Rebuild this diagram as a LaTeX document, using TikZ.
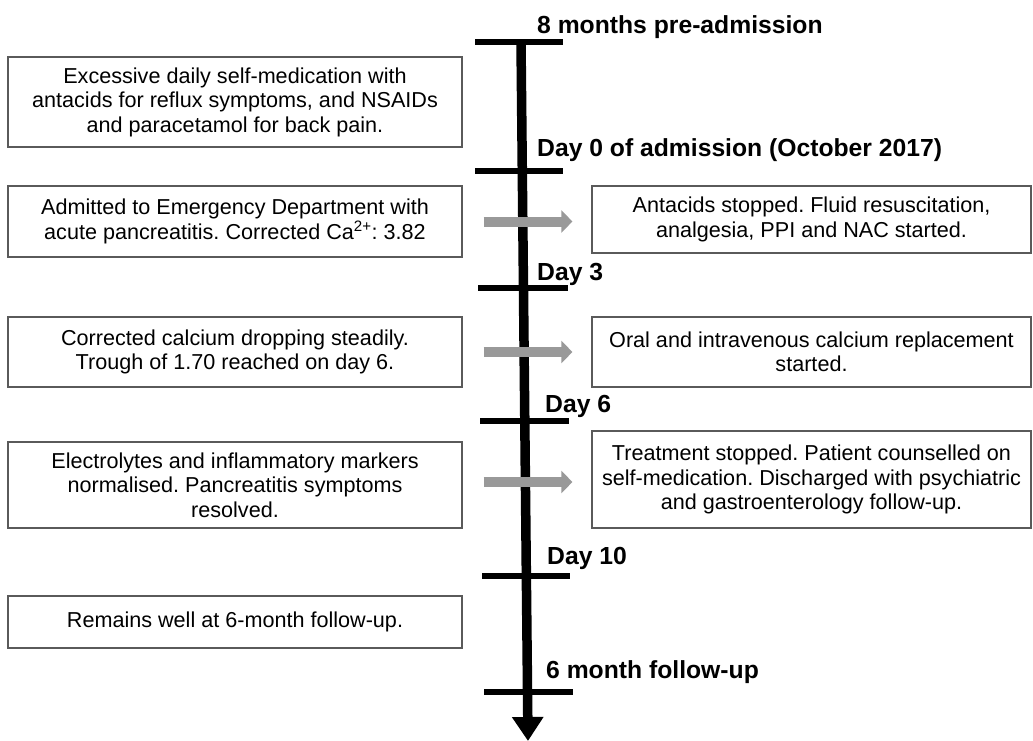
\documentclass[tikz,border=0pt]{standalone}
\usepackage{fontspec}
\setmainfont{Liberation Sans}
\usetikzlibrary{arrows.meta,calc}
\definecolor{arrowgray}{RGB}{153,153,153}
\definecolor{boxgray}{RGB}{90,90,90}
\frenchspacing
\tikzset{
  evbox/.style={draw=boxgray, line width=1.2pt, align=center, inner sep=0pt,
    font=\fontsize{21.6}{24.5}\selectfont},
  leftbox/.style={evbox, minimum width=454pt},
  rightbox/.style={evbox, minimum width=439pt},
  timelbl/.style={anchor=base west, inner sep=0pt, font=\fontsize{24.7}{28}\selectfont\bfseries},
  tickline/.style={line width=6.5pt},
  mainline/.style={line width=9.5pt, -{Triangle[length=24pt,width=30pt]}},
  grayarrow/.style={draw=arrowgray, line width=10pt, -{Triangle[length=11pt,width=22pt]}}
}
\begin{document}
\begin{tikzpicture}[x=1pt,y=-1pt]
\useasboundingbox (0,0) rectangle (1033,741);
% main timeline
\coordinate (tltop) at (521,42);
\coordinate (tlbot) at (528,741);
\draw[mainline] (tltop) -- (tlbot);
% ticks
\coordinate (t0a) at (475,42);  \coordinate (t0b) at (563,42);
\coordinate (t1a) at (475,171); \coordinate (t1b) at (563,171);
\coordinate (t2a) at (478,288); \coordinate (t2b) at (568,288);
\coordinate (t3a) at (480,421); \coordinate (t3b) at (569,421);
\coordinate (t4a) at (482,576); \coordinate (t4b) at (570,576);
\coordinate (t5a) at (484,692); \coordinate (t5b) at (573,692);
\draw[tickline] (t0a) -- (t0b);
\draw[tickline] (t1a) -- (t1b);
\draw[tickline] (t2a) -- (t2b);
\draw[tickline] (t3a) -- (t3b);
\draw[tickline] (t4a) -- (t4b);
\draw[tickline] (t5a) -- (t5b);
% time labels
\node[timelbl] (l0) at (537,34) {8 months pre-admission};
\node[timelbl] (l1) at (537,157) {Day 0 of admission (October 2017)};
\node[timelbl] (l2) at (537,280) {Day 3};
\node[timelbl] (l3) at (545,412) {Day 6};
\node[timelbl] (l4) at (547,564) {Day 10};
\node[timelbl] (l5) at (546,678) {6 month follow-up};
% left boxes
\node[leftbox, minimum height=90pt] (box1) at (235,102)
  {Excessive daily self-medication with\\antacids for reflux symptoms, and NSAIDs\\and paracetamol for back pain.};
\node[leftbox, minimum height=71pt] (box2) at (235,221.5)
  {Admitted to Emergency Department with\\acute pancreatitis. Corrected Ca\textsuperscript{2+}: 3.82};
\node[leftbox, minimum height=70pt] (box3) at (235,352)
  {Corrected calcium dropping steadily.\\Trough of 1.70 reached on day 6.};
\node[leftbox, minimum height=86pt] (box4) at (235,485)
  {Electrolytes and inflammatory markers\\normalised. Pancreatitis symptoms\\resolved.};
\node[leftbox, minimum height=52pt] (box5) at (235,622)
  {Remains well at 6-month follow-up.};
% right boxes
\node[rightbox, minimum height=67pt] (rbox1) at (811.5,219.5)
  {Antacids stopped. Fluid resuscitation,\\analgesia, PPI and NAC started.};
\node[rightbox, minimum height=70pt] (rbox2) at (811.5,352)
  {Oral and intravenous calcium replacement\\started.};
\node[rightbox, minimum height=97pt] (rbox3) at (811.5,479.5)
  {Treatment stopped. Patient counselled on\\self-medication. Discharged with psychiatric\\and gastroenterology follow-up.};
% gray arrows
\draw[grayarrow] ($(box2.east)+(21,0)$) -- ($(box2.east -| rbox1.west)+(-19,0)$);
\draw[grayarrow] ($(box3.east)+(21,0)$) -- ($(box3.east -| rbox2.west)+(-19,0)$);
\draw[grayarrow] ($(box4.east)+(21,-3)$) -- ($(box4.east -| rbox3.west)+(-19,-3)$);
\end{tikzpicture}
\end{document}
